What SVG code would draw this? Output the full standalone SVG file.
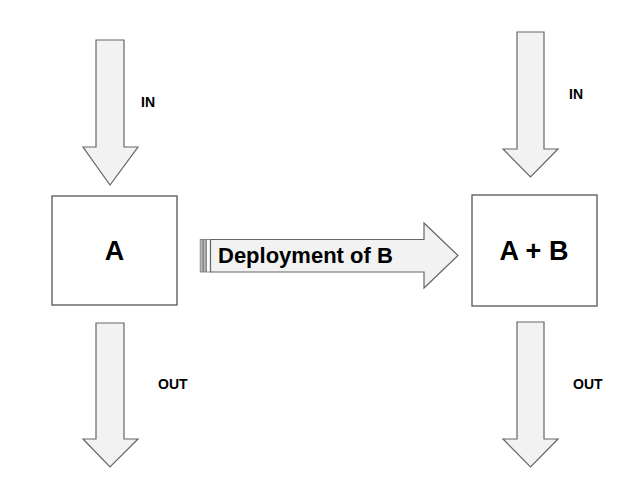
<svg xmlns="http://www.w3.org/2000/svg" width="638" height="492" viewBox="0 0 638 492">
<style>
.arr{fill:#f2f2f2;stroke:#666;stroke-width:1.2;stroke-linejoin:miter}
.box{fill:#fff;stroke:#555;stroke-width:1.3}
.lbl{font-family:"Liberation Sans",Arial,sans-serif;font-weight:bold;fill:#000}
.bar{fill:#bdbdbd;stroke:#777;stroke-width:0.8}
</style>
<rect width="638" height="492" fill="#fff"/>
<g id="connectors">
<g id="in-left">
<polygon class="arr" points="96,40 124,40 124,147 138,147 110,185 83,147 96,147"/>
<text class="lbl" x="141" y="107" font-size="14">IN</text>
</g>
<g id="out-left">
<polygon class="arr" points="96,323 124,323 124,439 138,439 110,467 83,439 96,439"/>
<text class="lbl" x="158" y="389" font-size="14">OUT</text>
</g>
<g id="in-right">
<polygon class="arr" points="517,32 544,32 544,149 558,149 530.5,177 503,149 517,149"/>
<text class="lbl" x="569" y="99" font-size="14">IN</text>
</g>
<g id="out-right">
<polygon class="arr" points="517,322 544,322 544,439 558,439 530.5,467 503,439 517,439"/>
<text class="lbl" x="573" y="389" font-size="14">OUT</text>
</g>
<g id="deployment">
<rect class="bar" x="200.2" y="239.5" width="2.6" height="32.5"/>
<rect class="bar" x="203.4" y="239.5" width="2.6" height="32.5"/>
<rect x="206.5" y="239.5" width="3.8" height="32.5" fill="#fff" stroke="#777" stroke-width="0.8"/>
<polygon class="arr" points="210.5,239.5 424,239.5 424,223 458,255.5 424,288 424,272 210.5,272"/>
<text class="lbl" x="218" y="263" font-size="22">Deployment of B</text>
</g>
</g>
<g id="node-A">
<rect class="box" x="52" y="196" width="125" height="109"/>
<text class="lbl" x="114.5" y="260" font-size="27" text-anchor="middle">A</text>
</g>
<g id="node-AB">
<rect class="box" x="472" y="195" width="125" height="111"/>
<text class="lbl" x="534" y="260" font-size="27" text-anchor="middle">A + B</text>
</g>
</svg>
